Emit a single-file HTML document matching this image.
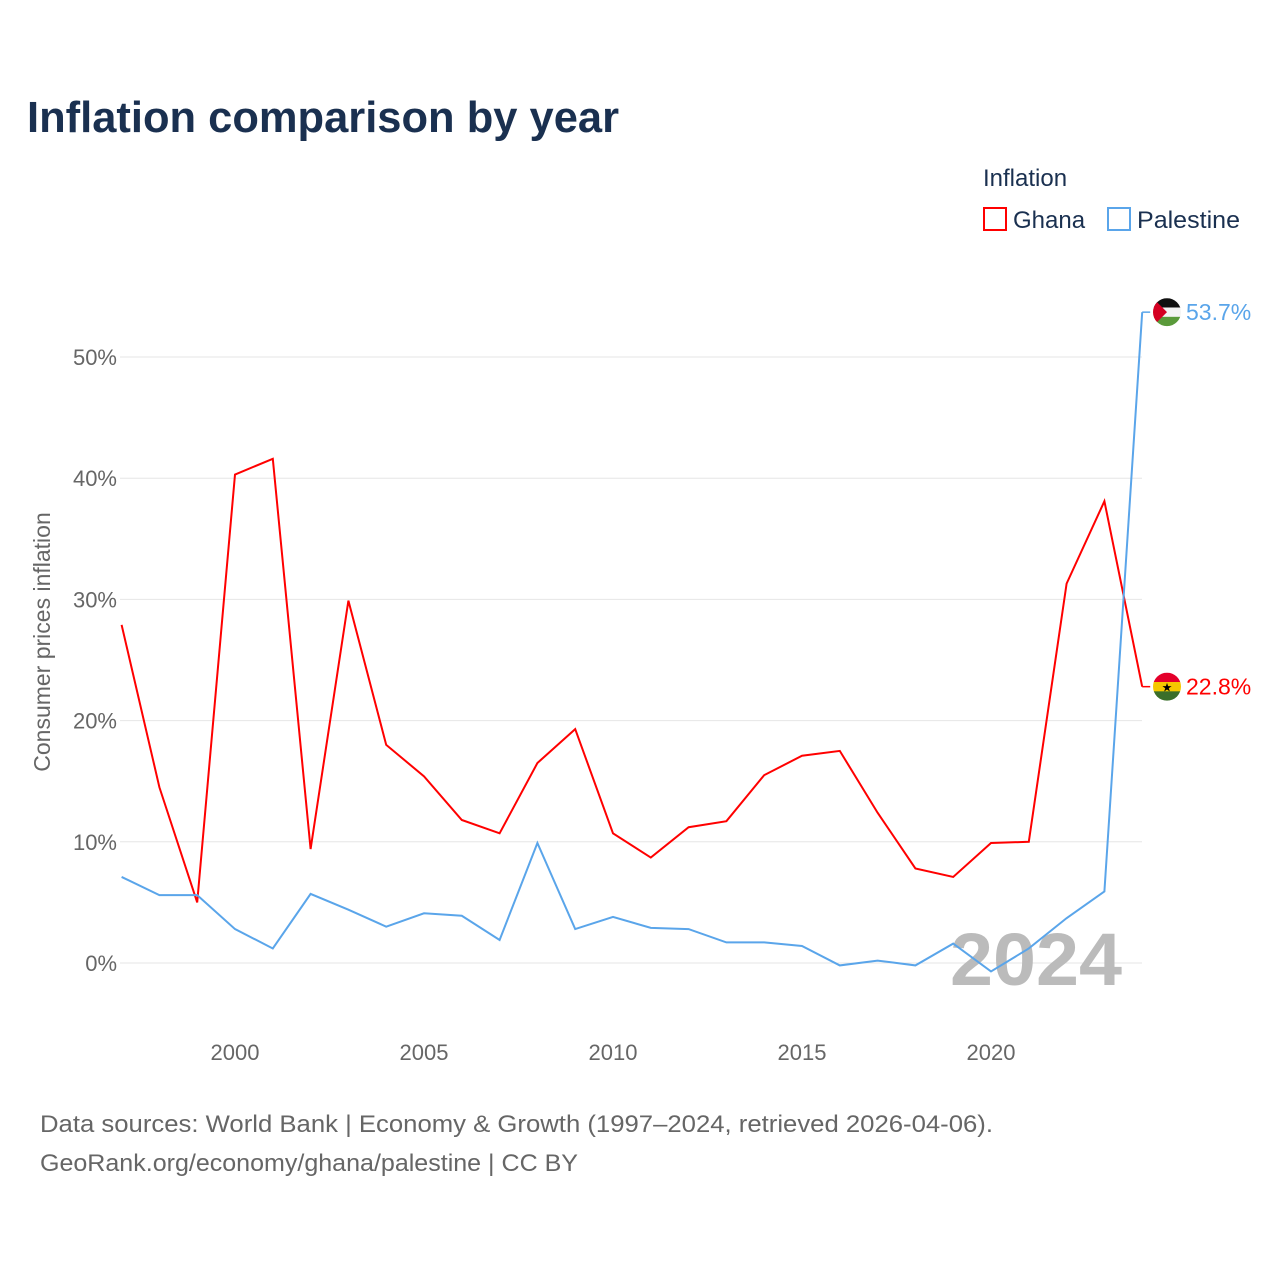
<!DOCTYPE html>
<html><head><meta charset="utf-8"><style>
body{margin:0;background:#fff;font-family:"Liberation Sans",sans-serif}
</style></head><body>
<svg width="1280" height="1280" xmlns="http://www.w3.org/2000/svg" font-family="Liberation Sans, sans-serif">
<text x="27" y="132" font-size="44" font-weight="bold" fill="#1a3050" textLength="592" lengthAdjust="spacingAndGlyphs">Inflation comparison by year</text>
<text x="983" y="186" font-size="24" fill="#1a3050">Inflation</text>
<g><rect x="984" y="208" width="22" height="22" fill="none" stroke="#f00" stroke-width="2"/><text x="1013" y="228" font-size="24" fill="#1a3050">Ghana</text></g>
<g><rect x="1108" y="208" width="22" height="22" fill="none" stroke="#5aa5ea" stroke-width="2"/><text x="1137" y="228" font-size="24" fill="#1a3050" textLength="103" lengthAdjust="spacingAndGlyphs">Palestine</text></g>
<g id="grid"></g><g id="yt"></g><g id="xt"></g>
<text x="950" y="985" font-size="74" font-weight="bold" fill="#bbb" textLength="172" lengthAdjust="spacingAndGlyphs">2024</text>
<text transform="translate(50,642) rotate(-90)" text-anchor="middle" font-size="23" fill="#666">Consumer prices inflation</text>
<g id="series"></g>
<text x="40" y="1132" font-size="24" fill="#666" textLength="953" lengthAdjust="spacingAndGlyphs">Data sources: World Bank | Economy &amp; Growth (1997–2024, retrieved 2026-04-06).</text>
<text x="40" y="1171" font-size="24" fill="#666" textLength="538" lengthAdjust="spacingAndGlyphs">GeoRank.org/economy/ghana/palestine | CC BY</text>
</svg>
<script>
const years=[];for(let y=1997;y<=2024;y++)years.push(y);
const ghana=[27.9,14.5,5.0,40.3,41.6,9.4,29.9,18.0,15.4,11.8,10.7,16.5,19.3,10.7,8.7,11.2,11.7,15.5,17.1,17.5,12.4,7.8,7.1,9.9,10.0,31.3,38.1,22.8];
const palestine=[7.1,5.6,5.6,2.8,1.2,5.7,4.4,3.0,4.1,3.9,1.9,9.9,2.8,3.8,2.9,2.8,1.7,1.7,1.4,-0.2,0.2,-0.2,1.6,-0.7,1.2,3.7,5.9,53.7];
const yTicks=[0,10,20,30,40,50];
const xTicks=[2000,2005,2010,2015,2020];
const NS="http://www.w3.org/2000/svg";
const X=y=>235+(y-2000)*37.8, Y=v=>963-v*12.12;
function mk(t,a,p){const e=document.createElementNS(NS,t);for(const k in a)e.setAttribute(k,a[k]);p.appendChild(e);return e;}
const grid=document.getElementById('grid'),yt=document.getElementById('yt'),xt=document.getElementById('xt'),ser=document.getElementById('series');
yTicks.forEach(v=>{
 const l=mk('line',{x1:120,x2:1142,y1:Y(v),y2:Y(v),stroke:'#e6e6e6','stroke-width':1},grid);
 
 
 const t=mk('text',{x:117,y:Y(v)+8,'text-anchor':'end','font-size':22,fill:'#666'},yt);t.textContent=v+'%';
 
 
});
xTicks.forEach(v=>{
 const t=mk('text',{x:X(v),y:1060,'text-anchor':'middle','font-size':22,fill:'#666'},xt);t.textContent=v;
 
 
});
function line(vals,col,name){
 const p=mk('polyline',{points:vals.map((v,i)=>X(years[i])+','+Y(v)).join(' '),fill:'none',stroke:col,'stroke-width':2,'stroke-linejoin':'miter'},ser);
 
 
 const last=vals[vals.length-1],ly=Y(last);
 mk('polyline',{points:`${X(2024)},${ly} ${X(2024)+8},${ly}`,fill:'none',stroke:col,'stroke-width':1.5},ser);
 const t=mk('text',{x:1186,y:ly+8,'font-size':23,fill:col},ser);t.textContent=last.toFixed(1)+'%';
 
 
 return ly;
}
const gy=line(ghana,'#ff0000','ghana-line');
const py=line(palestine,'#5aa5ea','palestine-line');
function flag(cy,stripes,id,name){
 const g=mk('g',{},ser);
 
 
 const cp=mk('clipPath',{id:id},g);mk('circle',{cx:1167,cy:cy,r:14},cp);
 const gg=mk('g',{'clip-path':'url(#'+id+')'},g);
 stripes.forEach((c,i)=>mk('rect',{x:1153,y:cy-14+i*28/3,width:28,height:28/3+0.5,fill:c},gg));
 return gg;
}
const pf=flag(py,['#111','#f4f4f4','#5a9a3a'],'cpP','palestine-flag');
mk('polygon',{points:`1153,${py-14} 1167,${py} 1153,${py+14}`,fill:'#d40022'},pf);
const gf=flag(gy,['#e4002b','#f5c800','#3a6e2a'],'cpG','ghana-flag');
const s=mk('text',{x:1167,y:gy+5,'text-anchor':'middle','font-size':12,fill:'#000'},gf);s.textContent='★';
</script>
</body></html>
